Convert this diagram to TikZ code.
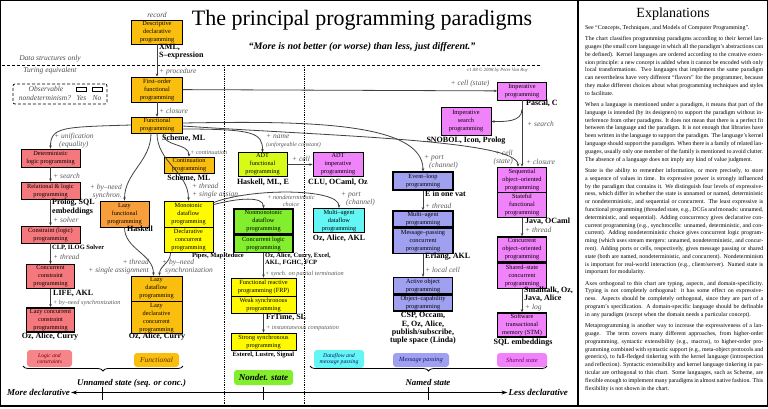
\documentclass[tikz,border=0pt]{standalone}
\usepackage{fontspec}
\setmainfont{Liberation Serif}
\usepackage{tikz}
\usetikzlibrary{arrows.meta,positioning,decorations.pathreplacing}
\definecolor{pgold}{RGB}{250,190,15}
\definecolor{porange}{RGB}{248,158,58}
\definecolor{pred}{RGB}{245,120,125}
\definecolor{pyellow}{RGB}{255,250,0}
\definecolor{plime}{RGB}{215,250,25}
\definecolor{pgreen}{RGB}{130,238,45}
\definecolor{ppink}{RGB}{240,130,250}
\definecolor{plav}{RGB}{160,160,240}
\definecolor{pcyan}{RGB}{100,245,245}
\newcommand{\boxfont}{\fontsize{6.3}{8}\selectfont}
\newcommand{\plusfont}{\fontsize{7.5}{8}\selectfont\itshape}
\newcommand{\smallplus}{\fontsize{6.2}{7}\selectfont\itshape}

\begin{document}
\begin{tikzpicture}[
  x=1pt, y=1pt,
  pbox/.style={rectangle, draw=black, line width=0.7pt, fill=#1, align=center,
    font=\boxfont, inner sep=1pt},
  ndbox/.style={pbox=#1, line width=1.5pt},
  lng/.style={font=\fontsize{8}{8.3}\selectfont\bfseries, inner sep=0pt, align=left},
  slng/.style={font=\fontsize{6.5}{7.3}\selectfont\bfseries, inner sep=0pt, align=left},
  plus/.style={font=\plusfont, text=black!65, inner sep=0pt, align=left},
  splus/.style={font=\smallplus, text=black!65, inner sep=0pt, align=left},
  note/.style={font=\fontsize{7.5}{8}\selectfont\itshape, text=black!70, inner sep=0pt},
  arr/.style={-{Stealth[length=3.2pt,width=2.6pt]}, line width=0.8pt, draw=black!75},
  legbox/.style={rectangle, rounded corners=3pt, fill=#1, align=center, inner sep=1pt},
]
\useasboundingbox (0,0) rectangle (768,-408);
\draw[line width=1.2pt] (0.6,-0.6) rectangle (767.4,-406);
\draw[line width=1.2pt] (578,0) -- (578,-406);

% title
\node (title) at (362,-20) {\fontsize{22}{22}\selectfont The principal programming paradigms};
\node (motto) at (362,-47) {\fontsize{10}{10}\selectfont\bfseries\itshape ``More is not better (or worse) than less, just different.''};
\node[font=\fontsize{4.8}{5.5}\selectfont\itshape, text=black!70, anchor=east, inner sep=0pt] (version) at (528,-70) {v1.08 \textcopyright\ 2008 by Peter Van Roy};

% turing line and separators
\node[note] (dsonly) at (50,-59) {Data structures only};
\node[note] (turing) at (50,-71) {Turing equivalent};
\draw[densely dashed, line width=0.7pt] (2,-65) -- (540,-65);
\draw[densely dotted, line width=0.8pt] (224,-65) -- (224,-406);
\draw[densely dotted, line width=0.8pt] (304,-65) -- (304,-406);

% observable nondeterminism
\node[draw, densely dashed, rounded corners=2pt, line width=0.7pt, minimum width=94pt, minimum height=20pt] (obs) at (60,-94) {};
\node[note] (obs1) at (46,-89) {Observable};
\node[note] (obs2) at (45,-98) {nondeterminism?};
\node[draw, line width=1.5pt, minimum width=10pt, minimum height=4pt, inner sep=0pt] (yesbox) at (81.5,-89.5) {};
\node[draw, line width=0.6pt, minimum width=10pt, minimum height=4pt, inner sep=0pt] (nobox) at (97,-89.5) {};
\node[note] (yes) at (81.5,-98) {Yes};
\node[note] (no) at (97,-98) {No};

% functional column
\node[pbox=pgold, minimum width=51pt, minimum height=24pt] (descr) at (157,-32) {Descriptive\\declarative\\programming};
\node[pbox=pgold, minimum width=51pt, minimum height=25pt] (first) at (157,-89.5) {First--order\\functional\\programming};
\node[pbox=pgold, minimum width=51pt, minimum height=15pt] (func) at (157,-125) {Functional\\programming};
\node[pbox=pgold, minimum width=50pt, minimum height=16pt] (cont) at (189,-165) {Continuation\\programming};
\node[pbox=porange, minimum width=49pt, minimum height=26pt] (lazyf) at (124.5,-214) {Lazy\\functional\\programming};
\node[pbox=pyellow, minimum width=49pt, minimum height=26pt] (mono) at (188.5,-214) {Monotonic\\dataflow\\programming};
\node[pbox=pyellow, minimum width=49pt, minimum height=25pt, below=0pt of mono] (declconc) {Declarative\\concurrent\\programming};
\node[pbox=pgold, minimum width=51pt, minimum height=25pt] (lazydf) at (156.5,-288.5) {Lazy\\dataflow\\programming};
\node[pbox=pgold, minimum width=51pt, minimum height=32pt, below=0pt of lazydf] (lazydecl) {Lazy\\declarative\\concurrent\\programming};

% logic column
\node[pbox=pred, minimum width=59pt, minimum height=18pt] (det) at (50.5,-158) {Deterministic\\logic programming};
\node[pbox=pred, minimum width=59pt, minimum height=17pt] (rel) at (50.5,-190.5) {Relational \& logic\\programming};
\node[pbox=pred, minimum width=59pt, minimum height=17pt] (cons) at (50.5,-234.5) {Constraint (logic)\\programming};
\node[ndbox=pred, minimum width=48pt, minimum height=23pt] (ccons) at (50.5,-276.5) {Concurrent\\constraint\\programming};
\node[ndbox=pred, minimum width=48pt, minimum height=24pt] (lccons) at (50.5,-320) {Lazy concurrent\\constraint\\programming};

% abstract data types
\node[pbox=plime, minimum width=49pt, minimum height=23pt] (adtf) at (262.5,-164.5) {ADT\\functional\\programming};
\node[pbox=ppink, minimum width=50pt, minimum height=23pt] (adti) at (338,-164.5) {ADT\\imperative\\programming};

% nondeterministic state
\node[ndbox=pgreen, minimum width=59pt, minimum height=25pt] (nonmono) at (263.5,-221.5) {Nonmonotonic\\dataflow\\programming};
\node[ndbox=pgreen, minimum width=59pt, minimum height=17pt, below=0pt of nonmono] (conclog) {Concurrent logic\\programming};
\node[ndbox=pcyan, minimum width=51pt, minimum height=23pt] (mad) at (339,-220.5) {Multi--agent\\dataflow\\programming};
\node[pbox=pyellow, minimum width=65pt, minimum height=18pt] (frp) at (263.5,-287) {Functional reactive\\programming (FRP)};
\node[pbox=pyellow, minimum width=65pt, minimum height=17pt, below=0pt of frp] (weak) {Weak synchronous\\programming};
\node[pbox=pyellow, minimum width=65pt, minimum height=17pt] (strong) at (263.5,-341.5) {Strong synchronous\\programming};

% message passing
\node[ndbox=plav, minimum width=60pt, minimum height=18pt] (evloop) at (423,-181) {Event--loop\\programming};
\node[ndbox=plav, minimum width=60pt, minimum height=16pt] (magent) at (423,-219) {Multi--agent\\programming};
\node[ndbox=plav, minimum width=60pt, minimum height=25pt, below=0pt of magent] (msgpass) {Message--passing\\concurrent\\programming};
\node[ndbox=plav, minimum width=59pt, minimum height=15pt] (actobj) at (423,-285.5) {Active object\\programming};
\node[ndbox=plav, minimum width=59pt, minimum height=16pt, below=0pt of actobj] (objcap) {Object--capability\\programming};

% shared state
\node[pbox=ppink, minimum width=49pt, minimum height=18pt] (imp) at (522,-91) {Imperative\\programming};
\node[pbox=ppink, minimum width=50pt, minimum height=28pt] (isearch) at (466,-121.5) {Imperative\\search\\programming};
\node[pbox=ppink, minimum width=49pt, minimum height=25pt] (seqoo) at (522,-179.5) {Sequential\\object--oriented\\programming};
\node[pbox=ppink, minimum width=49pt, minimum height=25pt, below=0pt of seqoo] (stateful) {Stateful\\functional\\programming};
\node[ndbox=ppink, minimum width=49pt, minimum height=25pt] (concoo) at (522,-249.5) {Concurrent\\object--oriented\\programming};
\node[ndbox=ppink, minimum width=49pt, minimum height=25pt, below=0pt of concoo] (shared) {Shared--state\\concurrent\\programming};
\node[ndbox=ppink, minimum width=49pt, minimum height=24pt] (stm) at (522,-325) {Software\\transactional\\memory (STM)};

% languages
\node[note] (rec) at (157,-15) {record};
\node[lng, anchor=west] (xml) at (159,-52) {XML,\\S--expression};
\node[lng, anchor=west] (schemea) at (162,-138) {Scheme, ML};
\node[lng] (schemeb) at (189,-178) {Scheme, ML};
\node[lng] (haskell) at (140,-229) {Haskell};
\node[lng] (hmle) at (263,-182) {Haskell, ML, E};
\node[lng] (cluoz) at (338,-182) {CLU, OCaml, Oz};
\node[slng, anchor=west] (pipes) at (192,-256) {Pipes, MapReduce};
\node[slng, anchor=north west] (ozexcel) at (265,-252.5) {Oz, Alice, Curry, Excel,\\AKL, FGHC, FCP};
\node[lng] (ozakl) at (339,-238) {Oz, Alice, AKL};
\node[lng, anchor=west] (frtime) at (266,-317) {FrTime, SL};
\node[slng] (esterel) at (263.5,-355) {Esterel, Lustre, Signal};
\node[lng, anchor=west] (prolog) at (52,-207) {Prolog, SQL\\embeddings};
\node[slng, anchor=west] (clp) at (52,-248) {CLP, ILOG Solver};
\node[lng, anchor=west] (life) at (53,-293) {LIFE, AKL};
\node[lng] (ozcurrya) at (50,-337) {Oz, Alice, Curry};
\node[lng] (ozcurryb) at (157,-337) {Oz, Alice, Curry};
\node[lng, anchor=west] (pascal) at (526,-103) {Pascal, C};
\node[lng] (snobol) at (466,-141) {SNOBOL, Icon, Prolog};
\node[lng, anchor=west] (evat) at (425,-194) {E in one vat};
\node[lng, anchor=west] (erlang) at (425,-257) {Erlang, AKL};
\node[lng, align=center] (csp) at (423,-328.5) {CSP, Occam,\\E, Oz, Alice,\\publish/subscribe,\\tuple space (Linda)};
\node[lng, anchor=west] (java) at (525,-221) {Java, OCaml};
\node[lng, anchor=west] (smalltalk) at (524,-294) {Smalltalk, Oz,\\Java, Alice};
\node[lng] (sqlemb) at (523,-343) {SQL embeddings};

% concepts
\node[plus, anchor=west] (cproc) at (159,-72) {+ procedure};
\node[plus, anchor=west] (cclos) at (159,-111) {+ closure};
\node[plus] (ccella) at (470,-84) {+ cell (state)};
\node[plus, anchor=west] (csearcha) at (527,-124) {+ search};
\node[plus, anchor=west] (cporta) at (424,-162.5) {+ port\\\hspace{5pt}(channel)};
\node[plus, anchor=east, align=right] (ccellb) at (513,-158) {+ cell\\(state)};
\node[plus, anchor=west] (cclosb) at (526,-162) {+ closure};
\node[plus, anchor=west] (cthreadc) at (525,-230) {+ thread};
\node[plus, anchor=west] (clog) at (525,-308) {+ log};
\node[plus, anchor=west] (cthreadd) at (425,-206) {+ thread};
\node[plus, anchor=west] (clocal) at (425,-270) {+ local cell};
\node[plus, anchor=west] (cname) at (266,-141.5) {+ name\\{\fontsize{6}{7}\selectfont(unforgeable constant)}};
\node[plus] (ccellc) at (301,-159) {+ cell};
\node[splus, anchor=west] (ccont) at (190,-152) {+ continuation};
\node[plus, anchor=west] (cunif) at (54,-140.5) {+ unification\\\hspace{5pt}(equality)};
\node[plus, anchor=east, align=right] (cbyneeda) at (122,-192) {+ by--need\\synchron.};
\node[plus, anchor=west] (cthreada) at (192,-191) {+ thread\\+ single assign.};
\node[splus, align=center] (cnondet) at (291,-201) {+ nondeterministic\\choice};
\node[plus, anchor=west] (cportb) at (341,-199.5) {+ port\\\hspace{5pt}(channel)};
\node[plus, anchor=west] (csearchb) at (53,-176) {+ search};
\node[plus, anchor=west] (csolver) at (53,-220) {+ solver};
\node[plus, anchor=west] (cthreadb) at (53,-257) {+ thread};
\node[splus, anchor=west] (cbyneedb) at (53,-303) {+ by--need synchronization};
\node[plus, anchor=east, align=right] (cthreade) at (149,-266.5) {+ thread\\+ single assignment};
\node[plus, anchor=west] (cbyneedc) at (162,-266.5) {+ by--need\\\hspace{3pt}synchronization};
\node[splus, anchor=west] (cpartial) at (265,-274) {+ synch. on partial termination};
\node[splus, anchor=west] (cinstant) at (266,-328) {+ instantaneous computation};

% connectors
\draw[arr] (descr) -- (first);
\draw[arr] (first) -- (func);
\draw[arr] (first) -- (imp);
\draw[arr] (func.west) .. controls (62,-127) and (50.5,-127) .. (det.north);
\draw[arr] (det) -- (rel);
\draw[arr] (rel) -- (cons);
\draw[arr] (cons) -- (ccons);
\draw[arr] (ccons) -- (lccons);
\draw[arr] ([xshift=6pt]func.south) to[out=-90,in=90] (cont.north);
\draw[arr] ([xshift=-6pt]func.south) to[out=-90,in=90] (lazyf.north);
\draw[arr] (func.south) to[out=-90,in=90] (mono.north);
\draw[arr] ([yshift=-4pt]func.east) .. controls (255,-129) and (262.5,-133) .. (adtf.north);
\draw[arr] ([yshift=2pt]func.east) .. controls (300,-121) and (423,-121) .. (evloop.north);
\draw[arr] ([yshift=-1pt]func.east) .. controls (330,-136) and (518,-140) .. ([xshift=-4pt]seqoo.north);
\draw[arr] (adtf) -- (adti);
\draw[arr] (imp.south) -- (seqoo.north);
\draw[arr] ([yshift=-9pt]imp.south) to[out=-90,in=0] (isearch.east);
\draw[arr] ([yshift=-4pt]mono.north east) .. controls (238,-198) and (263.5,-196) .. (nonmono.north);
\draw[arr] ([yshift=-2pt]mono.north east) .. controls (250,-188) and (339,-188) .. (mad.north);
\draw[arr] (lazyf.south) to[out=-90,in=90] ([xshift=-3pt]lazydf.north);
\draw[arr] ([xshift=-18pt]declconc.south) to[out=-90,in=90] ([xshift=3pt]lazydf.north);
\draw[arr] (conclog) -- (frp);
\draw[arr] (weak) -- (strong);
\draw[arr] (evloop) -- (magent);
\draw[arr] (msgpass) -- (actobj);
\draw[arr] (stateful) -- (concoo);
\draw[arr] (shared) -- (stm);

% legend
\node[legbox=pred!90, minimum width=45pt, minimum height=17pt, font=\fontsize{5.6}{6.5}\selectfont\itshape, text={rgb,255:red,110;green,0;blue,0}] (leglogic) at (49.5,-358.5) {Logic and\\constraints};
\node[legbox=pgold, minimum width=45pt, minimum height=14pt, font=\fontsize{7.5}{8}\selectfont\itshape, text={rgb,255:red,90;green,50;blue,0}] (legfunc) at (156.5,-360) {Functional};
\node[legbox=pgreen, minimum width=59pt, minimum height=15pt, font=\fontsize{9}{9}\selectfont\bfseries\itshape] (legnondet) at (263.5,-377.5) {Nondet. state};
\node[legbox=pcyan, minimum width=50pt, minimum height=18pt, font=\fontsize{5.8}{6.6}\selectfont\itshape, text={rgb,255:red,20;green,20;blue,110}] (legdf) at (339,-359) {Dataflow and\\message passing};
\node[legbox=plav, minimum width=56pt, minimum height=14pt, font=\fontsize{6.4}{7}\selectfont\itshape, text={rgb,255:red,20;green,20;blue,110}] (legmsg) at (421,-360) {Message passing};
\node[legbox=ppink, minimum width=50pt, minimum height=14pt, font=\fontsize{6.4}{7}\selectfont\itshape, text={rgb,255:red,110;green,0;blue,110}] (legshared) at (522,-360) {Shared state};

\draw[decorate, decoration={brace, mirror, amplitude=5pt}, line width=0.8pt] (23,-366) -- (183,-366);
\draw[decorate, decoration={brace, mirror, amplitude=5pt}, line width=0.8pt] (310,-366) -- (547,-366);
\node[font=\fontsize{8.8}{9}\selectfont\bfseries\itshape, anchor=west, inner sep=0pt] (unnamed) at (77,-383) {Unnamed state (seq. or conc.)};
\node[font=\fontsize{8.8}{9}\selectfont\bfseries\itshape, inner sep=0pt] (named) at (428,-382) {Named state};

% declarativeness axis
\node[font=\fontsize{9}{9}\selectfont\bfseries\itshape, anchor=west, inner sep=1pt] (mdecl) at (6,-392.5) {More declarative};
\node[font=\fontsize{9}{9}\selectfont\bfseries\itshape, anchor=east, inner sep=1pt] (ldecl) at (569,-392.5) {Less declarative};
\draw[{Stealth[length=6pt,width=4pt]}-{Stealth[length=6pt,width=4pt]}, line width=1.2pt] (mdecl.east) -- (ldecl.west);
\foreach \tx in {102,263,428}
  \draw[line width=1pt] (\tx,-387) -- (\tx,-400);

% explanations
\node (exptitle) at (673,-14) {\fontsize{14}{14}\selectfont Explanations};
\node[anchor=north west, text width=178pt, align=justify, inner sep=0pt,
  font=\fontsize{5.9}{7.8}\selectfont] (exptext) at (585,-25) {%
See ``Concepts, Techniques, and Models of Computer Programming''.\par\vspace{3.5pt}
The chart classifies programming paradigms according to their kernel languages (the small core language in which all the paradigm's abstractions can be defined). Kernel languages are ordered according to the creative extension principle: a new concept is added when it cannot be encoded with only local transformations. Two languages that implement the same paradigm can nevertheless have very different ``flavors'' for the programmer, because they make different choices about what programming techniques and styles to facilitate.\par\vspace{3.5pt}
When a language is mentioned under a paradigm, it means that part of the language is intended (by its designers) to support the paradigm without interference from other paradigms. It does not mean that there is a perfect fit between the language and the paradigm. It is not enough that libraries have been written in the language to support the paradigm. The language's kernel language should support the paradigm. When there is a family of related languages, usually only one member of the family is mentioned to avoid clutter. The absence of a language does not imply any kind of value judgment.\par\vspace{3.5pt}
State is the ability to remember information, or more precisely, to store a sequence of values in time. Its expressive power is strongly influenced by the paradigm that contains it. We distinguish four levels of expressiveness, which differ in whether the state is unnamed or named, deterministic or nondeterministic, and sequential or concurrent. The least expressive is functional programming (threaded state, e.g., DCGs and monads: unnamed, deterministic, and sequential). Adding concurrency gives declarative concurrent programming (e.g., synchrocells: unnamed, deterministic, and concurrent). Adding nondeterministic choice gives concurrent logic programming (which uses stream mergers: unnamed, nondeterministic, and concurrent). Adding ports or cells, respectively, gives message passing or shared state (both are named, nondeterministic, and concurrent). Nondeterminism is important for real-world interaction (e.g., client/server). Named state is important for modularity.\par\vspace{3.5pt}
Axes orthogonal to this chart are typing, aspects, and domain-specificity. Typing is not completely orthogonal: it has some effect on expressiveness. Aspects should be completely orthogonal, since they are part of a program's specification. A domain-specific language should be definable in any paradigm (except when the domain needs a particular concept).\par\vspace{3.5pt}
Metaprogramming is another way to increase the expressiveness of a language. The term covers many different approaches, from higher-order programming, syntactic extensibility (e.g., macros), to higher-order programming combined with syntactic support (e.g., meta-object protocols and generics), to full-fledged tinkering with the kernel language (introspection and reflection). Syntactic extensibility and kernel language tinkering in particular are orthogonal to this chart. Some languages, such as Scheme, are flexible enough to implement many paradigms in almost native fashion. This flexibility is not shown in the chart.};
\end{tikzpicture}
\end{document}
